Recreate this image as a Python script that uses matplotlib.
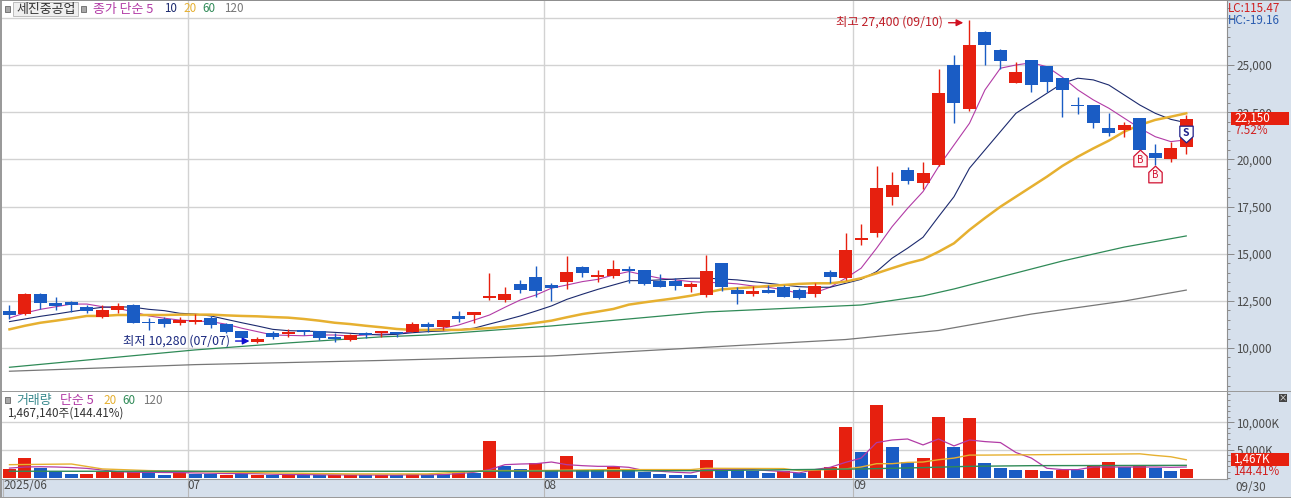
"""Daily candle chart with moving averages and a volume pane."""

import matplotlib

matplotlib.use("Agg")

import matplotlib.pyplot as plt
import numpy as np
from matplotlib.patches import Rectangle
from matplotlib.path import Path
from matplotlib.ticker import MultipleLocator

plt.rcParams["font.family"] = ["Noto Sans CJK KR", "DejaVu Sans"]

W, H = 1291, 498

# price data
opens = [11980, 11800, 12860, 12400, 12440, 12160, 11660, 12020, 12260, 11380, 11560,
         11340, 11400, 11590, 11270, 10900, 10300, 10810, 10740, 10960, 10890, 10570,
         10430, 10810, 10810, 10830, 10870, 11270, 11130, 11700, 11750, 12630, 12550,
         13400, 13770, 13340, 13500, 14300, 13770, 13820, 14210, 14140, 13550, 13550,
         13240, 12810, 14510, 13080, 12870, 13080, 13240, 13080, 12870, 14030, 13710,
         15730, 16110, 18020, 19440, 18750, 19700, 25000, 22670, 26750, 25800, 24060,
         25270, 24950, 24310, 22880, 22880, 21660, 21560, 22190, 20340, 20020, 20670]
highs = [12280, 12920, 12890, 12720, 12470, 12280, 12280, 12370, 12330, 11590, 11660,
         11660, 11800, 11700, 11320, 10900, 10610, 10920, 10990, 10960, 10900, 10810,
         10740, 10870, 10900, 10870, 11360, 11400, 11480, 11960, 11910, 13990, 13250,
         13600, 14350, 13460, 14880, 14350, 14140, 14670, 14350, 14140, 13920, 13700,
         13520, 14930, 14510, 13250, 13290, 13340, 13340, 13170, 13430, 14140, 16080,
         16570, 19650, 19350, 19610, 19880, 24790, 25530, 27400, 26820, 25830, 25180,
         25270, 24950, 24310, 23320, 22880, 22440, 21980, 22190, 20810, 20940, 22350]
lows = [11540, 11750, 12070, 12020, 11930, 11840, 11580, 11840, 11320, 10960, 11130,
        11240, 11270, 11050, 10810, 10450, 10280, 10460, 10570, 10690, 10430, 10320,
        10390, 10520, 10570, 10570, 10830, 10870, 10960, 11400, 11310, 12550, 12460,
        12900, 12720, 12510, 13150, 13780, 13520, 13700, 13430, 13340, 13220, 13080,
        12950, 12720, 13040, 12330, 12770, 12900, 12680, 12600, 12720, 13430, 13600,
        15460, 15870, 17580, 18690, 18410, 19670, 21940, 22560, 25000, 24770, 24060,
        23590, 23590, 22230, 22400, 21680, 21240, 21200, 20500, 19700, 19880, 20280]
closes = [11770, 12860, 12400, 12230, 12300, 11980, 12020, 12230, 11340, 11310, 11270,
          11480, 11480, 11200, 10850, 10520, 10470, 10570, 10870, 10830, 10530, 10490,
          10690, 10690, 10900, 10730, 11270, 11130, 11480, 11540, 11910, 12770, 12860,
          13080, 13020, 13180, 14030, 13980, 13870, 14190, 14100, 13400, 13240, 13290,
          13400, 14080, 13240, 12870, 13020, 12920, 12700, 12650, 13290, 13770, 15200,
          15830, 18480, 18640, 18850, 19280, 23500, 23000, 26060, 26060, 25210, 24630,
          23940, 24120, 23660, 22810, 21940, 21410, 21820, 20500, 20090, 20600, 22150]

ma5 = [11590, 11860, 12050, 12190, 12330, 12330, 12190, 12100, 11920, 11700,
       11580, 11480, 11430, 11400, 11260, 11050, 10870, 10690, 10670, 10650,
       10690, 10690, 10640, 10690, 10740, 10740, 10870, 10960, 11050, 11220,
       11480, 11750, 12160, 12550, 12810, 13170, 13340, 13520, 13640, 13870,
       14050, 13870, 13700, 13610, 13520, 13480, 13460, 13400, 13290, 13220,
       13080, 12900, 12930, 13220, 13700, 14230, 15290, 16430, 17400, 18290,
       19610, 20760, 21910, 23680, 24830, 25000, 25120, 24910, 24350, 23680,
       23150, 22710, 22180, 21650, 21200, 20940, 21030]
ma10 = [11400, 11540, 11680, 11800, 11930, 12050, 12160, 12190, 12160, 12050,
        11980, 11840, 11800, 11700, 11520, 11340, 11170, 10990, 10920, 10900,
        10870, 10830, 10780, 10730, 10690, 10730, 10810, 10870, 10900, 10960,
        11050, 11270, 11480, 11700, 11960, 12230, 12580, 12850, 13110, 13340,
        13570, 13570, 13610, 13660, 13700, 13700, 13660, 13610, 13520, 13430,
        13340, 13250, 13220, 13220, 13430, 13640, 14050, 14760, 15290, 15870,
        16960, 18020, 19530, 20500, 21470, 22440, 22970, 23500, 24030, 24300,
        24210, 23940, 23410, 22880, 22440, 22120, 21940]
ma20 = [10990, 11180, 11340, 11450, 11570, 11700, 11700, 11750, 11750, 11750,
        11750, 11770, 11770, 11770, 11730, 11700, 11680, 11640, 11610, 11540,
        11450, 11340, 11270, 11180, 11100, 11010, 10960, 10960, 10960, 10960,
        11010, 11050, 11130, 11220, 11330, 11450, 11630, 11800, 11930, 12070,
        12300, 12420, 12530, 12640, 12770, 12930, 13110, 13170, 13220, 13290,
        13340, 13400, 13430, 13430, 13520, 13700, 13960, 14230, 14490, 14700,
        15100, 15550, 16260, 16890, 17490, 18020, 18550, 19080, 19650, 20140,
        20580, 20990, 21470, 21820, 22090, 22260, 22440]
ma60_days = [0, 12, 18, 24, 27, 35, 45, 55, 59, 61, 68, 72, 76]
ma60 = [8980, 9900, 10270, 10590, 10690, 11170, 11910, 12280, 12760, 13130, 14610, 15350, 15940]
ma120_days = [0, 12, 24, 35, 45, 54, 60, 66, 72, 76]
ma120 = [8770, 9120, 9340, 9580, 10040, 10450, 10930, 11800, 12490, 13070]

# volume in thousands of shares
volume = [1600, 3570, 1730, 1130, 710, 710, 950, 1250, 1010, 950, 540,
          890, 650, 710, 480, 710, 480, 420, 480, 480, 480, 480,
          480, 420, 420, 420, 710, 420, 710, 1010, 830, 6600, 2020,
          1610, 2620, 1430, 3930, 1430, 1430, 1900, 1610, 1010, 710, 540,
          540, 3210, 1430, 1310, 1250, 770, 1130, 830, 1610, 1900, 9100,
          4640, 13030, 5530, 2860, 3570, 10890, 5530, 10710, 2680, 1790, 1430,
          1430, 1250, 1430, 1310, 2020, 2860, 1900, 2140, 1790, 1250, 1467]
volume_up = [1, 1, 0, 0, 0, 1, 1, 1, 1, 0, 0, 1, 0, 0, 1, 0, 1, 0, 1, 0, 0, 1,
             1, 0, 1, 0, 1, 0, 0, 1, 0, 1, 0, 0, 1, 0, 1, 0, 0, 1, 0, 0, 0, 0,
             0, 1, 0, 0, 0, 0, 1, 0, 1, 1, 1, 0, 1, 0, 0, 1, 1, 0, 1, 0, 0, 0,
             1, 0, 1, 0, 1, 1, 0, 1, 0, 0, 1]
vol_ma5 = [1700, 1900, 1950, 1900, 1800, 1650, 1350, 1050, 950, 950, 900,
           900, 820, 780, 720, 720, 680, 600, 540, 520, 500, 480,
           470, 460, 450, 450, 500, 500, 530, 710, 950, 1430, 2320,
           2440, 2500, 2800, 2320, 2140, 2020, 2020, 1840, 1250, 1130, 950,
           830, 1430, 1430, 1430, 1430, 1250, 1070, 830, 1430, 1840, 2740,
           3510, 6310, 6780, 6960, 5890, 6960, 5710, 6780, 6490, 6310, 4520,
           3510, 1670, 1430, 1430, 1900, 1900, 1900, 1900, 1900, 1840, 1900]
vol_ma20_days = [0, 4, 6, 9, 17, 22, 27, 29, 31, 34, 39, 44, 45, 50, 51, 54, 55, 56,
                 57, 58, 59, 60, 61, 62, 63, 71, 73, 74, 75, 76]
vol_ma20 = [2320, 2440, 1550, 1250, 830, 650, 650, 950, 1250, 1250, 1430, 1430, 1670, 1610,
            1250, 1550, 1900, 2500, 2500, 2740, 2800, 3210, 3510, 4050, 4050, 4220, 4280,
            3990, 3750, 3210]
vol_ma60_days = [0, 30, 45, 55, 59, 62, 66, 76]
vol_ma60 = [1130, 1130, 1250, 1550, 1790, 2020, 2140, 2200]

price_ticks = [10000, 12500, 15000, 17500, 20000, 22500, 25000, 27500]
price_labels = ["10,000", "12,500", "15,000", "17,500", "20,000", "22,500", "25,000", ""]
volume_ticks = [5000, 10000]
volume_labels = ["5,000K", "10,000K"]
month_pos = [-0.42, 11.5, 34.5, 54.5]
month_labels = ["2025/06", "07", "08", "09"]

RED = "#e6200f"
BLUE = "#1a5cc4"
MAGENTA = "#b23ba6"
NAVY = "#1c2a6e"
GOLD = "#e6b030"
GREEN = "#2f8a57"
GRAY = "#777777"
TEXT = "#4a4a4a"
PANEL = "#d6e0ec"
GRID = "#d2d2d2"
FS = 8.4
FS_KR = 9.3


def pane(fig, left, top, right, bottom):
    rect = [left / W, 1 - bottom / H, (right - left) / W, (bottom - top) / H]
    return fig.add_axes(rect)


def label(fig, x, y, text, color=TEXT, size=FS, **kwargs):
    kwargs.setdefault("va", "center")
    return fig.text(x / W, 1 - y / H, text, color=color, fontsize=size, **kwargs)


def box(fig, x0, y0, x1, y1, face, edge="none", lw=0.7):
    patch = Rectangle((x0 / W, 1 - y1 / H), (x1 - x0) / W, (y1 - y0) / H,
                      transform=fig.transFigure, facecolor=face, edgecolor=edge, linewidth=lw)
    fig.add_artist(patch)


def style_pane(ax, ticks, labels, minor):
    ax.set_yticks(ticks, labels=labels)
    ax.yaxis.set_minor_locator(MultipleLocator(minor))
    ax.yaxis.tick_right()
    ax.tick_params(axis="y", which="major", length=5, width=0.7, color="#888888",
                   labelsize=FS, labelcolor=TEXT, pad=2)
    ax.tick_params(axis="y", which="minor", length=2.5, width=0.7, color="#888888")
    ax.grid(axis="y", color=GRID, linewidth=1)
    for x in month_pos[1:]:
        ax.axvline(x, color=GRID, linewidth=1, zorder=0.5)
    ax.set_axisbelow(True)
    for side in ["left", "top", "bottom"]:
        ax.spines[side].set_visible(False)
    ax.spines["right"].set_color("#8f8f8f")


fig = plt.figure(figsize=(W / 100, H / 100), dpi=100, facecolor=PANEL)
ax_price = pane(fig, 2, 1, 1226.5, 391)
ax_vol = pane(fig, 2, 391.5, 1226.5, 478.5)

days = np.arange(len(closes))
o, h, l, c = map(np.array, (opens, highs, lows, closes))
up = c >= o
candle_colors = np.where(up, RED, BLUE)

ax_price.plot(days, ma5, color=MAGENTA, linewidth=0.8, zorder=2)
ax_price.plot(days, ma10, color=NAVY, linewidth=0.8, zorder=2)
ax_price.plot(days, ma20, color=GOLD, linewidth=1.8, zorder=2)
ax_price.plot(ma60_days, ma60, color=GREEN, linewidth=0.9, zorder=2)
ax_price.plot(ma120_days, ma120, color=GRAY, linewidth=0.9, zorder=2)
ax_price.vlines(days, l, h, colors=candle_colors, linewidth=1.0, zorder=3)
ax_price.bar(days, np.maximum(np.abs(c - o), 30), bottom=np.minimum(c, o), width=0.84,
             color=candle_colors, linewidth=0, zorder=4)

ax_price.set_xlim(-0.484, 78.6)
ax_price.set_ylim(7722, 28392)
ax_price.set_xticks([])
style_pane(ax_price, price_ticks, price_labels, 500)

# high / low callouts
high_day = int(np.argmax(h))
low_day = int(np.argmin(l))
ax_price.text(high_day - 1.7, h[high_day] - 120, "최고 27,400 (09/10)", color="#c0202a",
              fontsize=FS_KR - 0.4, ha="right", va="center", zorder=6)
ax_price.annotate("", xy=(high_day - 0.4, h[high_day] - 160), xytext=(high_day - 1.35, h[high_day] - 160),
                  arrowprops=dict(arrowstyle="-|>", color="#d01020", linewidth=1, shrinkA=0, shrinkB=0),
                  zorder=6)
ax_price.text(low_day - 1.75, l[low_day] + 110, "최저 10,280 (07/07)", color="#1c2a80",
              fontsize=FS_KR - 0.4, ha="right", va="center", zorder=6)
ax_price.annotate("", xy=(low_day - 0.5, l[low_day] + 90), xytext=(low_day - 1.4, l[low_day] + 90),
                  arrowprops=dict(arrowstyle="-|>", color="#1010d0", linewidth=1, shrinkA=0, shrinkB=0),
                  zorder=6)

# buy / sell flags
house_up = Path([(-0.8, -1), (-0.8, 0.25), (0, 1), (0.8, 0.25), (0.8, -1), (-0.8, -1)], closed=True)
house_down = Path([(-0.8, 1), (-0.8, -0.25), (0, -1), (0.8, -0.25), (0.8, 1), (-0.8, 1)], closed=True)
for day, price in [(73, 20050), (74, 19220)]:
    ax_price.plot(day, price, marker=house_up, markersize=12, markerfacecolor="#fff4f4",
                  markeredgecolor="#d01030", markeredgewidth=0.9, zorder=7)
    ax_price.text(day, price - 60, "B", color="#d01030", fontsize=7, ha="center", va="center", zorder=8)
ax_price.plot(76, 21320, marker=house_down, markersize=12, markerfacecolor="white",
              markeredgecolor="#20208a", markeredgewidth=0.9, zorder=7)
ax_price.text(76, 21380, "S", color="#20208a", fontsize=7.5, fontweight="bold", ha="center", va="center", zorder=8)

# volume pane
vol_colors = [RED if flag else BLUE for flag in volume_up]
ax_vol.bar(days, volume, width=0.84, color=vol_colors, linewidth=0, zorder=2)
ax_vol.plot(days, vol_ma5, color=MAGENTA, linewidth=0.9, zorder=3)
ax_vol.plot(vol_ma20_days, vol_ma20, color=GOLD, linewidth=1.0, zorder=3)
ax_vol.plot(vol_ma60_days, vol_ma60, color=GREEN, linewidth=1.0, zorder=3)
ax_vol.set_xlim(-0.484, 78.6)
ax_vol.set_ylim(-178, 15540)
style_pane(ax_vol, volume_ticks, volume_labels, 1000)
ax_vol.set_xticks(month_pos, labels=month_labels)
ax_vol.tick_params(axis="x", length=13.5, width=0.8, color="#b8b8b8", pad=-13,
                   labelsize=FS, labelcolor=TEXT)
for tick in ax_vol.get_xticklabels():
    tick.set_ha("left")
ax_vol.spines["bottom"].set_visible(True)
ax_vol.spines["bottom"].set_color("#9a9a9a")

# window frame
box(fig, 0, 0, 2, H, "#9a9a9a")
box(fig, 0, 0, W, 1.5, "#8f8f8f")
box(fig, 0, 390.5, W, 392, "#9a9a9a")
box(fig, 0, 496.5, W, H, "#9a9a9a")

# header row
box(fig, 5, 6, 10, 12, "#a8a8a8", "#777777")
box(fig, 13, 2, 78, 16.5, "#efefef", "#bdbdbd")
label(fig, 16, 9, "세진중공업", color="#333333", size=FS_KR)
box(fig, 81, 6, 86, 12, "#a8a8a8", "#777777")
label(fig, 93, 9, "종가 단순 5", color=MAGENTA, size=FS_KR)
label(fig, 164, 9, "10", color=NAVY)
label(fig, 183, 9, "20", color=GOLD)
label(fig, 202, 9, "60", color=GREEN)
label(fig, 224, 9, "120", color=GRAY)

# volume header
box(fig, 5, 397, 10, 403, "#a8a8a8", "#777777")
label(fig, 16, 400, "거래량", color="#3a8a8e", size=FS_KR)
label(fig, 60, 400, "단순 5", color=MAGENTA, size=FS_KR)
label(fig, 103, 400, "20", color=GOLD)
label(fig, 122, 400, "60", color=GREEN)
label(fig, 143, 400, "120", color=GRAY)
label(fig, 7, 413, "1,467,140주(144.41%)", color="#333333")

# right side readouts
label(fig, 1228, 8, "LC:115.47", color="#d02020")
label(fig, 1228, 20, "HC:-19.16", color="#2a5cb0")
box(fig, 1231, 112.5, 1289, 125, RED)
label(fig, 1234, 118.5, f"{closes[-1]:,}", color="white")
label(fig, 1234, 130.5, "7.52%", color="#d02020")
box(fig, 1231, 452.5, 1289, 466, RED)
label(fig, 1233, 459, "1,467K", color="white")
label(fig, 1233, 471, "144.41%", color="#d02020")
label(fig, 1235, 487, "09/30")
box(fig, 1279, 394, 1287, 402, "#444444")
label(fig, 1283, 398, "×", color="white", size=6, ha="center")

fig.savefig("out.png", dpi=100, facecolor=PANEL)
